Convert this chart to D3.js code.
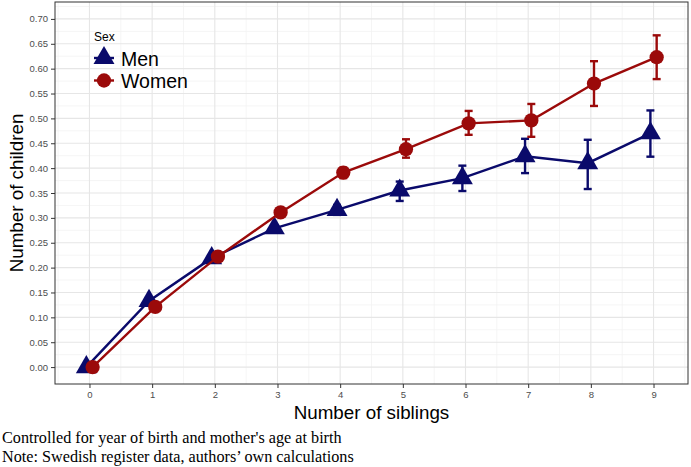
<!DOCTYPE html>
<html><head><meta charset="utf-8">
<script src="https://cdn.jsdelivr.net/npm/d3@7"></script>
<style>body{margin:0;background:#fff}svg{display:block}</style>
</head><body>
<svg id="chart" width="691" height="467"></svg>
<script>
const siblings = [0,1,2,3,4,5,6,7,8,9];
const menValues = [0.000,0.133,0.219,0.279,0.316,0.355,0.380,0.424,0.410,0.470];
const menLower  = [0.000,0.130,0.215,0.274,0.306,0.334,0.354,0.390,0.358,0.423];
const menUpper  = [0.000,0.136,0.223,0.284,0.326,0.373,0.405,0.459,0.457,0.516];
const womenValues = [0.000,0.121,0.222,0.311,0.391,0.438,0.490,0.496,0.570,0.623];
const womenLower  = [0.000,0.118,0.218,0.305,0.380,0.421,0.467,0.463,0.525,0.579];
const womenUpper  = [0.000,0.124,0.226,0.317,0.401,0.458,0.515,0.529,0.615,0.667];
const yTicks = [0,0.05,0.10,0.15,0.20,0.25,0.30,0.35,0.40,0.45,0.50,0.55,0.60,0.65,0.70];
const legendTitle = "Sex";
const seriesNames = ["Men","Women"];
const xTitle = "Number of siblings";
const yTitle = "Number of children";
const captions = ["Controlled for year of birth and mother's age at birth","Note: Swedish register data, authors\u2019 own calculations"];

const svg = d3.select("#chart");
const L=55, R=688, T=2, B=384;
const x = d3.scaleLinear().domain([-0.55,9.55]).range([L,R]);
const y = d3.scaleLinear().domain([-0.034,0.734]).range([B,T]);
const colMen="#0a0a6b", colWomen="#9b0a0a";
const dodge=0.05;

// grid
const g = svg.append("g");
const yMinor = d3.range(0.025,0.73,0.05);
const xMinor = d3.range(-0.5,9.6,1);
g.selectAll(".ym").data(yMinor).enter().append("line")
 .attr("x1",L).attr("x2",R).attr("y1",d=>y(d)).attr("y2",d=>y(d))
 .attr("stroke","#f2f2f2").attr("stroke-width",0.8);
g.selectAll(".xm").data(xMinor).enter().append("line")
 .attr("y1",T).attr("y2",B).attr("x1",d=>x(d)).attr("x2",d=>x(d))
 .attr("stroke","#f2f2f2").attr("stroke-width",0.8);
g.selectAll(".yM").data(yTicks).enter().append("line")
 .attr("x1",L).attr("x2",R).attr("y1",d=>y(d)).attr("y2",d=>y(d))
 .attr("stroke","#e6e6e6").attr("stroke-width",1.1);
g.selectAll(".xM").data(siblings).enter().append("line")
 .attr("y1",T).attr("y2",B).attr("x1",d=>x(d)).attr("x2",d=>x(d))
 .attr("stroke","#e6e6e6").attr("stroke-width",1.1);

// axes
const yAxis = d3.axisLeft(y).tickValues(yTicks).tickFormat(d3.format(".2f")).tickSize(4).tickPadding(3);
const xAxis = d3.axisBottom(x).tickValues(siblings).tickFormat(d3.format("d")).tickSize(4).tickPadding(3);
const ya = svg.append("g").attr("transform",`translate(${L},0)`).call(yAxis);
const xa = svg.append("g").attr("transform",`translate(0,${B})`).call(xAxis);
[ya,xa].forEach(a=>{
  a.select(".domain").remove();
  a.selectAll("line").attr("stroke","#333");
  a.selectAll("text").attr("fill","#4d4d4d").style("font-family","Liberation Sans, Arial, sans-serif").style("font-size","9.5px");
});

// border
svg.append("rect").attr("x",L).attr("y",T).attr("width",R-L).attr("height",B-T)
 .attr("fill","none").attr("stroke","#333").attr("stroke-width",1);

function drawSeries(vals,lo,hi,off,col,shape){
  const pts = siblings.map((s,i)=>({x:s+off,v:vals[i],lo:lo[i],hi:hi[i]}));
  svg.append("path").datum(pts).attr("fill","none").attr("stroke",col).attr("stroke-width",2.4)
   .attr("d",d3.line().x(d=>x(d.x)).y(d=>y(d.v)));
  const eb = svg.append("g").attr("stroke",col).attr("stroke-width",2.4);
  pts.filter(d=>y(d.lo)-y(d.hi)>3).forEach(d=>{
    eb.append("line").attr("x1",x(d.x)).attr("x2",x(d.x)).attr("y1",y(d.lo)).attr("y2",y(d.hi));
    eb.append("line").attr("x1",x(d.x)-4).attr("x2",x(d.x)+4).attr("y1",y(d.lo)).attr("y2",y(d.lo));
    eb.append("line").attr("x1",x(d.x)-4).attr("x2",x(d.x)+4).attr("y1",y(d.hi)).attr("y2",y(d.hi));
  });
  svg.append("g").selectAll("path").data(pts).enter().append("path")
   .attr("transform",d=>`translate(${x(d.x)},${y(d.v)})`)
   .attr("d",d3.symbol().type(shape).size(shape===d3.symbolCircle?160:190))
   .attr("fill",col);
}
drawSeries(menValues,menLower,menUpper,-dodge,colMen,d3.symbolTriangle);
drawSeries(womenValues,womenLower,womenUpper,dodge,colWomen,d3.symbolCircle);

// legend
const lg = svg.append("g").style("font-family","Liberation Sans, Arial, sans-serif");
lg.append("text").attr("x",94).attr("y",41).attr("font-size","12px").attr("fill","#000").text(legendTitle);
const shapes=[d3.symbolTriangle,d3.symbolCircle], cols=[colMen,colWomen];
seriesNames.forEach((n,i)=>{
  const cy = 58+i*22.5;
  lg.append("line").attr("x1",94).attr("x2",114).attr("y1",cy).attr("y2",cy).attr("stroke",cols[i]).attr("stroke-width",2.4);
  lg.append("path").attr("transform",`translate(104,${cy})`).attr("d",d3.symbol().type(shapes[i]).size(i==0?190:160)).attr("fill",cols[i]);
  lg.append("text").attr("x",121).attr("y",cy+7.5).attr("font-size","19.5px").attr("fill","#000").text(n);
});

// titles
svg.append("text").attr("x",(L+R)/2).attr("y",419).attr("text-anchor","middle")
 .style("font-family","Liberation Sans, Arial, sans-serif").style("font-size","18.8px").text(xTitle);
svg.append("text").attr("transform",`translate(23,${(T+B)/2}) rotate(-90)`).attr("text-anchor","middle")
 .style("font-family","Liberation Sans, Arial, sans-serif").style("font-size","18.8px").text(yTitle);
captions.forEach((c,i)=>{
  svg.append("text").attr("x",2).attr("y",443+i*18.5).style("font-family","Liberation Serif, Times New Roman, serif")
   .style("font-size","16.2px").text(c);
});
</script>
</body></html>
